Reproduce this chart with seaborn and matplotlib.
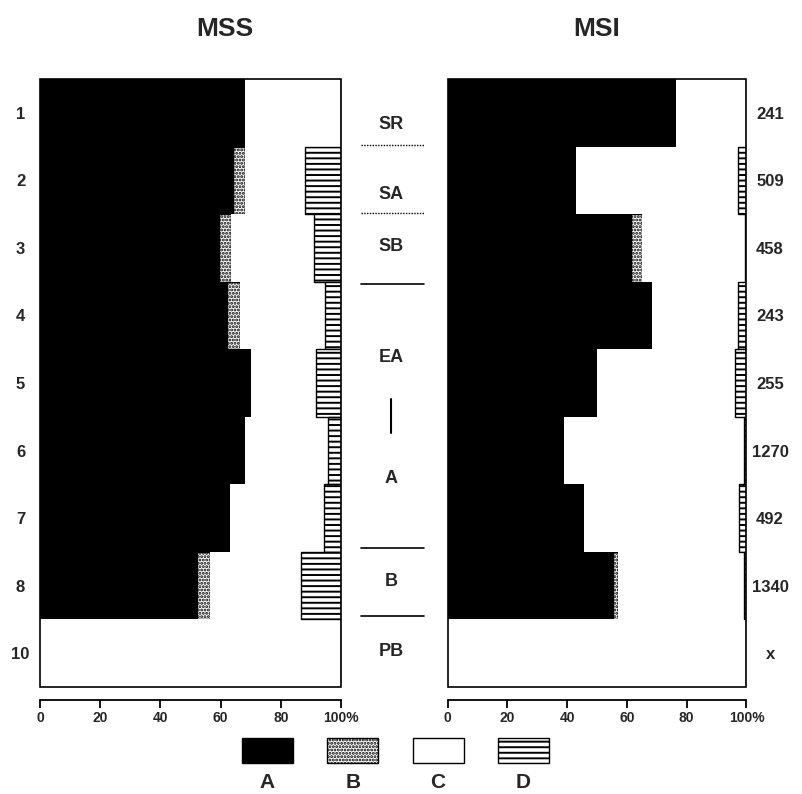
import numpy as np
import pandas as pd
import matplotlib
matplotlib.use("Agg")
import matplotlib.pyplot as plt
from matplotlib.patches import Rectangle
import seaborn as sns

# Row identifiers, case counts and composition groups
rows = ["1", "2", "3", "4", "5", "6", "7", "8", "10"]
counts = ["241", "509", "458", "243", "255", "1270", "492", "1340", "x"]
groups = ["A", "B", "C", "D"]

# MSS composition per row (percent)
mss_a = [68, 64, 59.5, 62, 70, 68, 63, 52, 0]
mss_b = [0, 4, 4, 4.5, 0, 0, 0, 4.5, 0]
mss_c = [32, 20, 27.5, 28.2, 21.7, 27.6, 31.4, 30.2, 100]
mss_d = [0, 12, 9, 5.3, 8.3, 4.4, 5.6, 13.3, 0]

# MSI composition per row (percent)
msi_a = [76.5, 43, 61.5, 68.5, 50, 39, 45.5, 55.5, 0]
msi_b = [0, 0, 3.7, 0, 0, 0, 0, 1.5, 0]
msi_c = [23.5, 54.2, 34.3, 28.7, 46.3, 60.2, 51.9, 42, 100]
msi_d = [0, 2.8, 0.5, 2.8, 3.7, 0.8, 2.6, 1.0, 0]

# Zone labels drawn between the two panels: (label, row position)
zones = [("SR", 0.18), ("SA", 1.21), ("SB", 1.98), ("EA", 3.62),
         ("A", 5.42), ("B", 6.94), ("PB", 7.98)]

x_ticks = [0, 20, 40, 60, 80, 100]
x_ticklabels = ["0", "20", "40", "60", "80", "100%"]

sns.set_theme(style="white")
plt.rcParams["font.family"] = ["Liberation Sans", "DejaVu Sans"]
plt.rcParams["font.weight"] = "bold"
plt.rcParams["hatch.color"] = "black"
plt.rcParams["hatch.linewidth"] = 1.4

styles = {
    "A": dict(color="black", hatch=None, edge="black"),
    "B": dict(color="white", hatch=".....", edge="black"),
    "C": dict(color="white", hatch=None, edge="none"),
    "D": dict(color="white", hatch="---", edge="black"),
}

W, H = 802, 794
fig = plt.figure(figsize=(W / 100, H / 100), dpi=100)
fig.patch.set_facecolor("white")

ax_l = fig.add_axes([40 / W, 1 - 687 / H, 301 / W, 608 / H])
ax_r = fig.add_axes([447.5 / W, 1 - 687 / H, 299 / W, 608 / H])
ax_m = fig.add_axes([341 / W, 1 - 687 / H, 106.5 / W, 608 / H])


def draw_panel(ax, a, b, c, d):
    df = pd.DataFrame({"row": rows, "A": a, "B": b, "C": c, "D": d})
    starts = df[groups].cumsum(axis=1) - df[groups]
    # One stacked segment per group, each starting where the previous ends
    for g in groups:
        sns.barplot(x=df[g].values, y=df["row"].values, order=rows,
                    orient="h", width=1.0, saturation=1, errorbar=None,
                    left=starts[g].values,
                    color=styles[g]["color"], hatch=styles[g]["hatch"],
                    edgecolor=styles[g]["edge"], linewidth=1.0, ax=ax)
    ax.set_xlim(0, 100)
    ax.set_ylim(len(rows) - 0.5, -0.5)
    ax.set_xlabel("")
    ax.set_ylabel("")
    for s in ("left", "top", "right"):
        ax.spines[s].set_visible(False)
    ax.spines["bottom"].set_position(("outward", 9))
    ax.spines["bottom"].set_color("black")
    ax.spines["bottom"].set_linewidth(1.3)
    ax.set_xticks(x_ticks)
    ax.set_xticklabels(x_ticklabels)
    ax.tick_params(axis="x", bottom=True, direction="out", length=6,
                   width=1.3, color="black", labelsize=10, pad=2)
    ax.set_facecolor("none")
    # Outline around the whole stack
    ax.add_patch(Rectangle((0, 0), 1, 1, transform=ax.transAxes,
                           fill=False, edgecolor="black", linewidth=1.2,
                           clip_on=False, zorder=5))


draw_panel(ax_l, mss_a, mss_b, mss_c, mss_d)
draw_panel(ax_r, msi_a, msi_b, msi_c, msi_d)

# Row numbers on the left panel
ax_l.set_yticks(range(len(rows)))
ax_l.set_yticklabels(rows)
ax_l.tick_params(axis="y", length=0, pad=14, labelsize=12)
for lab in ax_l.get_yticklabels():
    lab.set_ha("center")

# Case counts on the right of the MSI panel
ax_r.set_yticks(range(len(rows)))
ax_r.set_yticklabels(counts)
ax_r.yaxis.tick_right()
ax_r.tick_params(axis="y", length=0, pad=17, labelsize=12,
                 left=False, labelleft=False, labelright=True)
for lab in ax_r.get_yticklabels():
    lab.set_ha("center")

# Middle column: zone names and separators
ax_m.set_xlim(0, 1)
ax_m.set_ylim(len(rows) - 0.5, -0.5)
ax_m.axis("off")
for name, pos in zones:
    ax_m.text(0.47, pos, name, ha="center", va="center", fontsize=13,
              fontweight="bold")
for pos in (0.48, 1.48):
    ax_m.plot([0.19, 0.78], [pos, pos], color="black", lw=1.0,
              linestyle=(0, (1, 1)))
for pos in (2.53, 6.44, 7.45):
    ax_m.plot([0.19, 0.78], [pos, pos], color="black", lw=1.2)
ax_m.plot([0.47, 0.47], [4.24, 4.74], color="black", lw=1.5)

# Panel titles
fig.text(225 / W, 1 - 29 / H, "MSS", ha="center", va="center",
         fontsize=19, fontweight="bold")
fig.text(597 / W, 1 - 29 / H, "MSI", ha="center", va="center",
         fontsize=19, fontweight="bold")

# Legend swatches with labels underneath
for i, g in enumerate(groups):
    x0 = 242 + i * 85.3
    fig.patches.append(Rectangle((x0 / W, 1 - 763 / H), 51 / W, 25 / H,
                                 transform=fig.transFigure,
                                 facecolor=styles[g]["color"],
                                 hatch=styles[g]["hatch"],
                                 edgecolor="black", linewidth=1.0))
    fig.text((x0 + 25.5) / W, 1 - 782 / H, g, ha="center", va="center",
             fontsize=15, fontweight="bold")

fig.savefig("out.png", dpi=100)
